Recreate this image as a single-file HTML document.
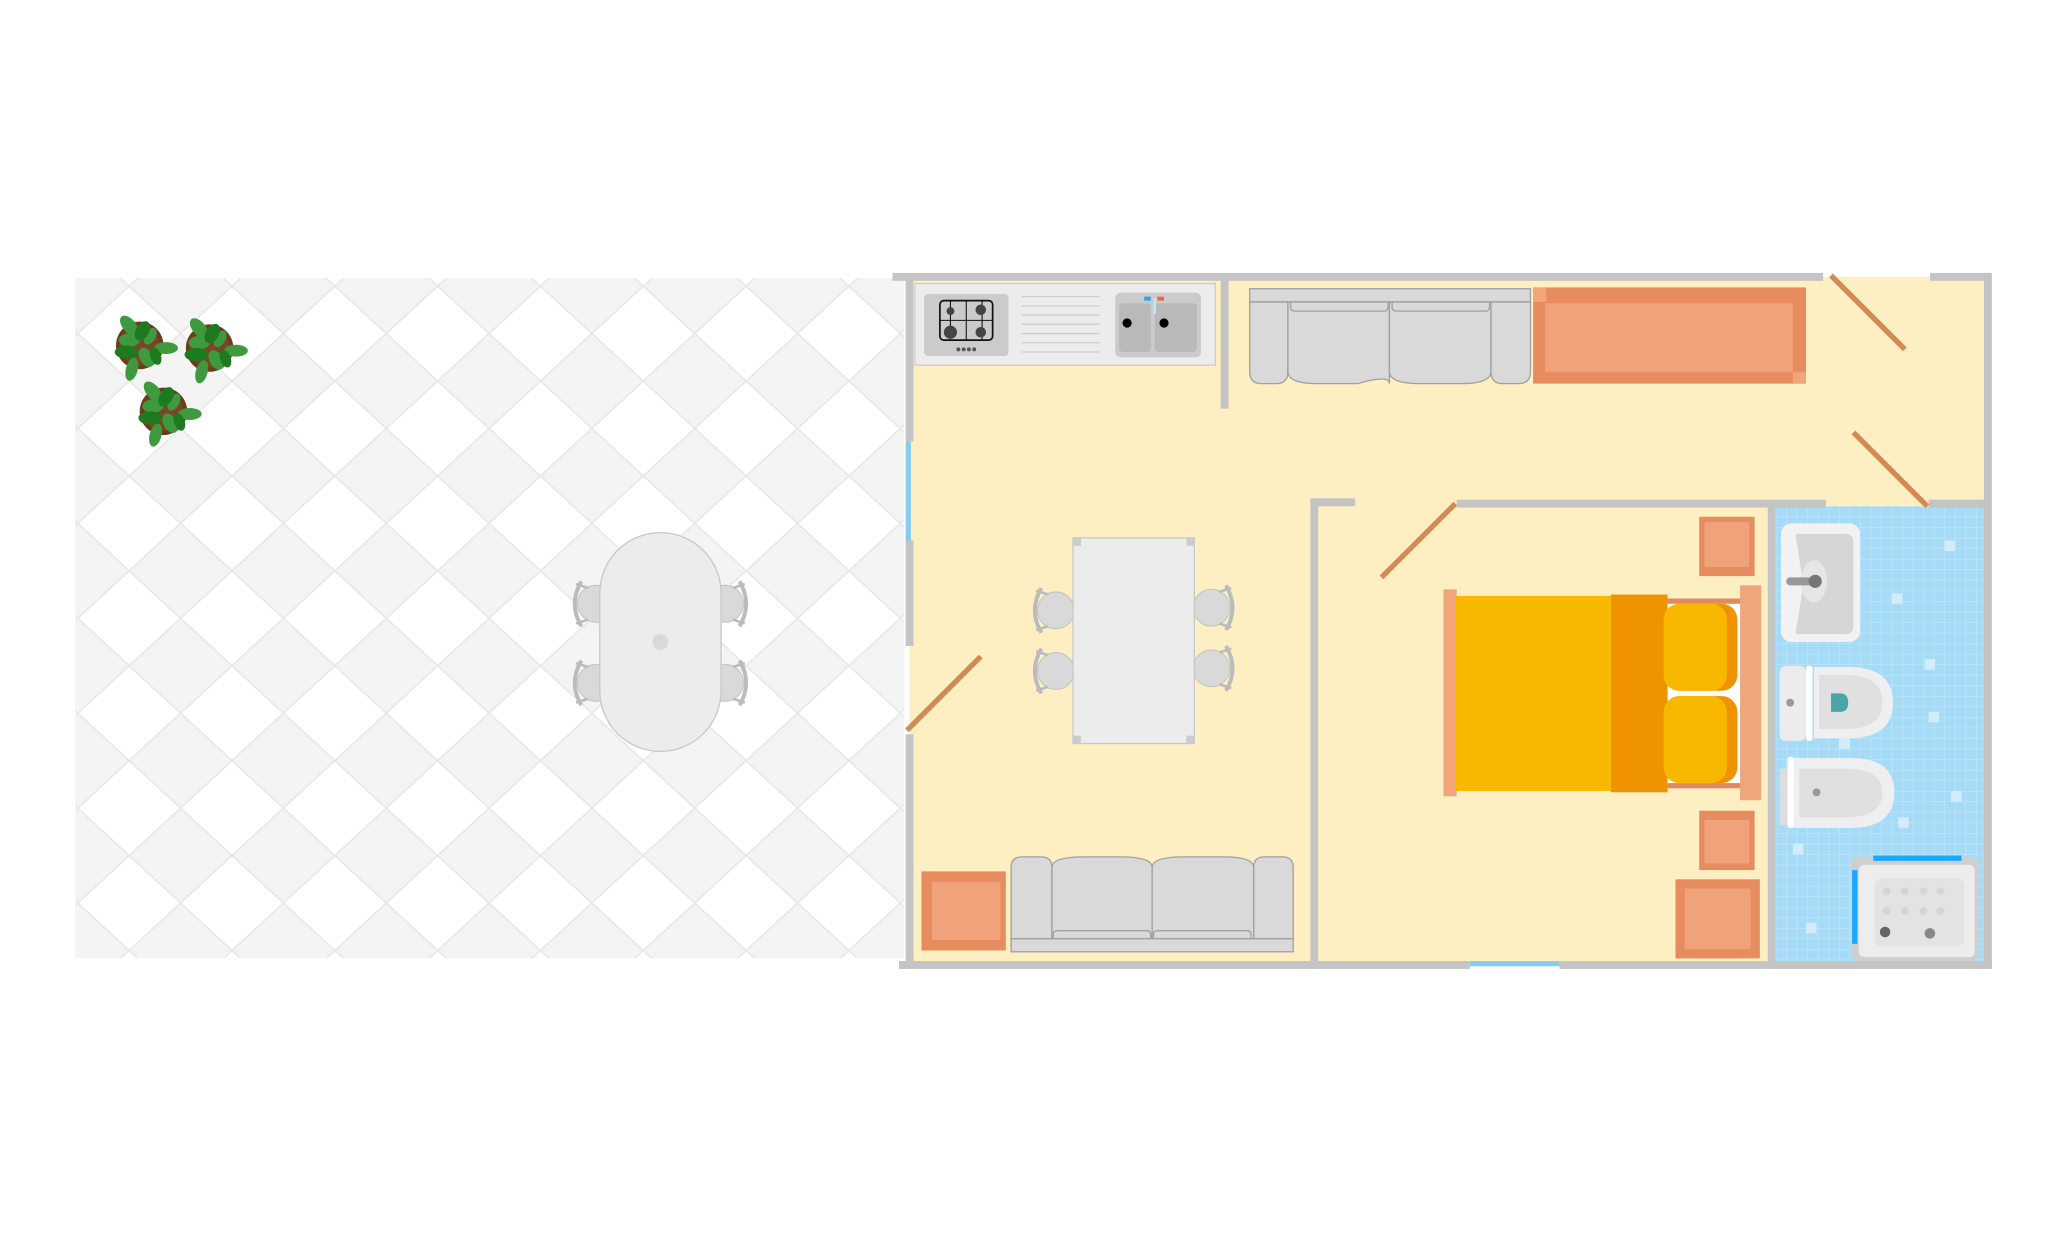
<!DOCTYPE html>
<html><head><meta charset="utf-8"><style>html,body{margin:0;padding:0;background:#fff}svg{display:block}</style></head>
<body>
<svg xmlns="http://www.w3.org/2000/svg" width="2067" height="1240" viewBox="0 0 1568 940.6">
<defs>
<pattern id="tiles" x="59" y="217" width="78" height="72" patternUnits="userSpaceOnUse">
<rect width="78" height="72" fill="#f4f4f4"/>
<polygon points="39,0 78,36 39,72 0,36" fill="#fff" stroke="#e8e8e8" stroke-width="1.2"/>
</pattern>
<pattern id="btile" x="1347" y="384" width="8" height="8" patternUnits="userSpaceOnUse">
<rect width="8" height="8" fill="#a6dbf7"/>
<path d="M0 0H8M0 0V8" stroke="#c8eafb" stroke-width="0.8"/>
</pattern>
<g id="plant">
<circle r="18" fill="#6e3a1c"/><circle r="15" fill="#7a4526"/>
<g fill="#3f9a3f">
<ellipse cx="-8" cy="-15" rx="5" ry="9" transform="rotate(-40 -8 -15)"/>
<ellipse cx="20" cy="2" rx="9" ry="4.5"/>
<ellipse cx="-6" cy="18" rx="4.5" ry="9" transform="rotate(15 -6 18)"/>
<ellipse cx="-8" cy="-4" rx="8" ry="5"/>
<ellipse cx="5" cy="9" rx="5" ry="8" transform="rotate(-30 5 9)"/>
<ellipse cx="8" cy="-7" rx="4" ry="7" transform="rotate(30 8 -7)"/>
</g>
<g fill="#1e7a1e">
<ellipse cx="2" cy="-11" rx="5" ry="8" transform="rotate(30 2 -11)"/>
<ellipse cx="-10" cy="5" rx="9" ry="5"/>
<ellipse cx="12" cy="8" rx="4" ry="7" transform="rotate(-20 12 8)"/>
</g>
</g>
<g id="chairL">
<circle cx="0" cy="0" r="14" fill="#d9d9d9" stroke="#c4c4c4" stroke-width="0.8"/>
<path d="M-11,-17 Q-21,0 -11,17" stroke="#bbb" stroke-width="3" fill="none"/>
<path d="M-15,-15 L-6,-12 M-15,15 L-6,12" stroke="#bbb" stroke-width="2"/>
</g>
</defs>

<rect x="57" y="211" width="629" height="516" fill="url(#tiles)"/>
<use href="#plant" x="106" y="262"/>
<use href="#plant" x="159" y="264"/>
<use href="#plant" x="124" y="312"/>
<use href="#chairL" x="452" y="458"/>
<use href="#chairL" x="452" y="518"/>
<use href="#chairL" transform="translate(550 458) scale(-1 1)"/>
<use href="#chairL" transform="translate(550 518) scale(-1 1)"/>
<rect x="455" y="404" width="92" height="166" rx="46" fill="#ececec" stroke="#c8c8c8" stroke-width="1"/>
<circle cx="501" cy="487" r="6" fill="#d9d9d9"/>

<rect x="690" y="210" width="817" height="521" fill="#feefc3"/>
<rect x="1347" y="384" width="158" height="345" fill="url(#btile)"/>
<g fill="#d2ecfb">
<rect x="1355" y="400" width="8" height="8"/><rect x="1475" y="410" width="8" height="8"/><rect x="1435" y="450" width="8" height="8"/><rect x="1460" y="500" width="8" height="8"/><rect x="1395" y="560" width="8" height="8"/><rect x="1480" y="600" width="8" height="8"/><rect x="1440" y="620" width="8" height="8"/><rect x="1360" y="640" width="8" height="8"/><rect x="1370" y="700" width="8" height="8"/><rect x="1463" y="540" width="8" height="8"/>
</g>

<g fill="#c4c4c4">
<rect x="677" y="207" width="706" height="6"/>
<rect x="1464" y="207" width="46" height="6"/>
<rect x="1505" y="207" width="6" height="527"/>
<rect x="682" y="729" width="433" height="6"/>
<rect x="1183" y="729" width="328" height="6"/>
<rect x="687" y="212" width="6" height="123"/>
<rect x="687" y="410" width="6" height="80"/>
<rect x="687" y="557" width="6" height="172"/>
<rect x="926" y="212" width="6" height="98"/>
<rect x="994" y="378" width="6" height="353"/>
<rect x="994" y="378" width="34" height="6"/>
<rect x="1105" y="379" width="280" height="6"/>
<rect x="1463" y="379" width="45" height="6"/>
<rect x="1341" y="384" width="6" height="346"/>
</g>
<rect x="687" y="335" width="4" height="75" fill="#85cdf0"/>
<rect x="1115" y="729" width="68" height="4" fill="#85cdf0"/>
<g stroke="#d38a55" stroke-width="4">
<line x1="688" y1="554" x2="744" y2="498"/>
<line x1="1048" y1="438" x2="1104" y2="382"/>
<line x1="1389" y1="209" x2="1445" y2="265"/>
<line x1="1406" y1="328" x2="1462" y2="384"/>
</g>

<rect x="694" y="215" width="228" height="62" fill="#ececec" stroke="#ccc" stroke-width="1"/>
<rect x="701" y="223" width="64" height="47" rx="3" fill="#cbcbcb"/>
<rect x="713" y="228" width="40" height="30" rx="3" fill="none" stroke="#111" stroke-width="1.3"/>
<path d="M733 228V258M713 243H753M721 228V258M745 228V258" stroke="#111" stroke-width="0.8"/>
<circle cx="721" cy="236" r="3" fill="#444"/><circle cx="744" cy="235" r="4" fill="#444"/>
<circle cx="721" cy="252" r="5" fill="#444"/><circle cx="744" cy="252" r="4" fill="#444"/>
<g fill="#555"><circle cx="727" cy="265" r="1.5"/><circle cx="731" cy="265" r="1.5"/><circle cx="735" cy="265" r="1.5"/><circle cx="739" cy="265" r="1.5"/></g>
<g stroke="#ccc" stroke-width="1"><path d="M775 225H834M775 232H834M775 239H834M775 246H834M775 253H834M775 260H834M775 267H834"/></g>
<rect x="846" y="222" width="65" height="49" rx="4" fill="#cbcbcb"/>
<rect x="849" y="230" width="24" height="37" rx="3" fill="#b9b9b9"/>
<rect x="876" y="230" width="32" height="37" rx="3" fill="#b9b9b9"/>
<circle cx="855" cy="245" r="3.5" fill="#000"/><circle cx="883" cy="245" r="3.5" fill="#000"/>
<rect x="875" y="226" width="2" height="12" fill="#bde6fa"/>
<rect x="868" y="225" width="5" height="3" fill="#3a9ee8"/><rect x="878" y="225" width="5" height="3" fill="#e86a3a"/>

<g fill="#d9d9d9" stroke="#a0a0a0" stroke-width="1">
<rect x="948" y="219" width="213" height="10"/>
<path d="M948 229H977V282Q977 291 968 291H957Q948 291 948 282Z"/>
<path d="M1131 229H1161V282Q1161 291 1152 291H1140Q1131 291 1131 282Z"/>
<path d="M977 229H1054V291Q1054 284 1030 291H1000Q977 291 977 282Z"/>
<path d="M1054 229H1131V282Q1131 291 1108 291H1078Q1054 291 1054 282Z"/>
<path d="M979 229V233Q979 236 983 236H1050Q1053 236 1053 232V229M1056 229V233Q1056 236 1060 236H1127Q1130 236 1130 232V229" fill="none"/>
</g>
<rect x="1163" y="218" width="207" height="73" fill="#e78c5e"/>
<rect x="1172" y="230" width="188" height="52" fill="#f0a27a"/>
<g fill="#f4a47a"><rect x="1163" y="218" width="10" height="11"/><rect x="1360" y="282" width="10" height="9"/></g>

<use href="#chairL" x="801" y="463"/>
<use href="#chairL" x="801" y="509"/>
<use href="#chairL" transform="translate(919 461) scale(-1 1)"/>
<use href="#chairL" transform="translate(919 507) scale(-1 1)"/>
<rect x="814" y="408" width="92" height="156" fill="#ececec" stroke="#c8c8c8" stroke-width="1"/>
<g fill="#ccc"><rect x="814" y="408" width="6" height="6"/><rect x="900" y="408" width="6" height="6"/><rect x="814" y="558" width="6" height="6"/><rect x="900" y="558" width="6" height="6"/></g>

<g fill="#d9d9d9" stroke="#a0a0a0" stroke-width="1">
<rect x="767" y="712" width="214" height="10"/>
<path d="M767 712V658Q767 650 775 650H790Q798 650 798 658V712Z"/>
<path d="M951 712V658Q951 650 959 650H973Q981 650 981 658V712Z"/>
<path d="M798 712V658Q798 650 822 650H850Q874 650 874 658V712Z"/>
<path d="M874 712V658Q874 650 898 650H928Q951 650 951 658V712Z"/>
<path d="M799 712V708Q799 706 803 706H870Q873 706 873 709V712M875 712V708Q875 706 879 706H946Q949 706 949 709V712" fill="none"/>
</g>
<rect x="699" y="661" width="64" height="60" fill="#e78c5e"/>
<rect x="707" y="669" width="52" height="44" fill="#f0a27a"/>

<rect x="1095" y="447" width="10" height="157" fill="#f0a57a"/>
<rect x="1265" y="454" width="56" height="144" fill="#fff"/>
<rect x="1265" y="454" width="56" height="4" fill="#e08a62"/><rect x="1265" y="594" width="56" height="4" fill="#e08a62"/>
<rect x="1104" y="452" width="118" height="148" fill="#f9b800"/>
<rect x="1222" y="451" width="43" height="150" fill="#f09300"/>
<rect x="1262" y="458" width="56" height="66" rx="12" fill="#f09300"/>
<rect x="1262" y="458" width="48" height="66" rx="12" fill="#f9b800"/>
<rect x="1262" y="528" width="56" height="66" rx="12" fill="#f09300"/>
<rect x="1262" y="528" width="48" height="66" rx="12" fill="#f9b800"/>
<rect x="1320" y="444" width="16" height="163" fill="#f0a57a"/>
<rect x="1289" y="392" width="42" height="45" fill="#e78c5e"/><rect x="1293" y="396" width="34" height="34" fill="#f0a27a"/>
<rect x="1289" y="615" width="42" height="45" fill="#e78c5e"/><rect x="1293" y="622" width="34" height="33" fill="#f0a27a"/>
<rect x="1271" y="667" width="64" height="60" fill="#e78c5e"/><rect x="1278" y="674" width="50" height="46" fill="#f0a27a"/>

<rect x="1351" y="397" width="60" height="90" rx="8" fill="#f2f2f2"/>
<path d="M1362 405H1400Q1406 405 1406 412V475Q1406 481 1400 481H1362L1368 444Z" fill="#d6d6d6"/>
<ellipse cx="1376" cy="441" rx="10" ry="16" fill="#e6e6e6"/>
<rect x="1355" y="438" width="20" height="6" rx="3" fill="#999"/><circle cx="1377" cy="441" r="5" fill="#777"/>
<rect x="1350" y="505" width="20" height="57" rx="5" fill="#ececec"/>
<rect x="1370" y="505" width="5" height="57" rx="2" fill="#fff"/>
<path d="M1376 506H1402Q1436 506 1436 533Q1436 560 1402 560H1376Z" fill="#efefef"/>
<path d="M1380 512H1400Q1428 512 1428 533Q1428 553 1400 553H1380Z" fill="#e0e0e0"/>
<path d="M1389 526H1396Q1402 526 1402 533Q1402 540 1396 540H1389Z" fill="#4aa6a6"/>
<circle cx="1358" cy="533" r="3" fill="#999"/>
<rect x="1350" y="583" width="6" height="43" fill="#ddd"/>
<rect x="1356" y="574" width="5" height="54" rx="2" fill="#fff"/>
<path d="M1361 575H1404Q1437 575 1437 601Q1437 628 1404 628H1361Z" fill="#efefef"/>
<path d="M1365 583H1400Q1428 583 1428 601Q1428 620 1400 620H1365Z" fill="#e0e0e0"/>
<circle cx="1378" cy="601" r="3" fill="#999"/>
<rect x="1404" y="650" width="97" height="79" rx="6" fill="#cfcfcf"/>
<rect x="1410" y="656" width="88" height="70" rx="4" fill="#ededed"/>
<rect x="1422" y="666" width="68" height="52" rx="6" fill="#e3e3e3"/>
<g fill="#d5d5d5"><circle cx="1431" cy="676" r="3"/><circle cx="1445" cy="676" r="3"/><circle cx="1459" cy="676" r="3"/><circle cx="1472" cy="676" r="3"/><circle cx="1431" cy="691" r="3"/><circle cx="1445" cy="691" r="3"/><circle cx="1459" cy="691" r="3"/><circle cx="1472" cy="691" r="3"/></g>
<circle cx="1430" cy="707" r="4" fill="#666"/><circle cx="1464" cy="708" r="4" fill="#888"/>
<rect x="1421" y="649" width="67" height="4" fill="#1aa8ff"/>
<rect x="1405" y="660" width="4" height="56" fill="#1aa8ff"/>
</svg>
</body></html>
